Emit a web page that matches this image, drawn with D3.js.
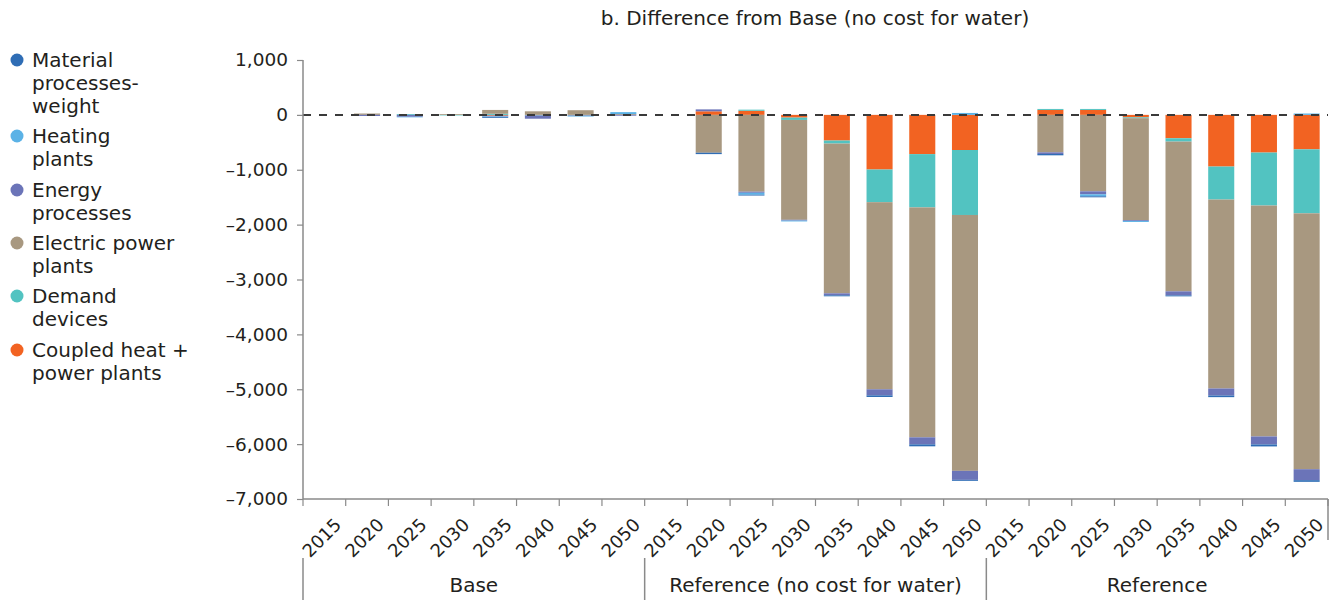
<!DOCTYPE html>
<html><head><meta charset="utf-8">
<script src="https://cdn.jsdelivr.net/npm/d3@7"></script>
<style>
body{margin:0;background:#fff;}
text{font-family:"DejaVu Sans",Verdana,sans-serif;fill:#231f20;}
</style></head>
<body><svg id="c" width="1330" height="600"></svg>
<script>
const groups = ["Base", "Reference (no cost for water)", "Reference"];
const years = ["2015","2020","2025","2030","2035","2040","2045","2050"];
const yTicks = [1000, 0, -1000, -2000, -3000, -4000, -5000, -6000, -7000];

// series values, 24 entries each: Base (8), Reference no cost (8), Reference (8)
const coupled  = [0,0,0,0,-15,0,0,0,   0,65,75,-50,-468,-996,-715,-640,   0,90,90,-45,-426,-942,-687,-628];
const demand   = [0,0,15,-10,20,-10,-10,0,   0,0,20,-42,-55,-595,-971,-1184,   0,18,18,-15,-61,-601,-965,-1166];
const electric = [0,25,0,15,70,65,85,15,   0,-690,-1400,-1820,-2729,-3410,-4190,-4663,   0,-683,-1393,-1858,-2729,-3443,-4208,-4663];
const energy   = [0,-20,-35,0,-15,-60,-10,-15,   0,35,-20,-15,-36,-110,-128,-164,   0,-30,-55,-15,-73,-128,-146,-200];
const heating  = [0,0,-10,0,-10,0,-10,35,   0,0,-35,-15,0,0,0,35,   0,0,-36,-18,0,0,0,25];
const material = [0,0,0,0,-15,0,0,0,   0,-25,-15,0,-18,-30,-36,-18,   0,-24,-18,0,-18,-30,-36,-30];

const seriesNames = ["Material processes-weight","Heating plants","Energy processes","Electric power plants","Demand devices","Coupled heat + power plants"];
const legendLines = [["Material","processes-","weight"],["Heating","plants"],["Energy","processes"],["Electric power","plants"],["Demand","devices"],["Coupled heat +","power plants"]];
const colors = ["#2f6db5","#5bb2e6","#6b74b8","#a89880","#52c3c1","#f26322"];
const seriesVals = [material, heating, energy, electric, demand, coupled];

const FONT = '"DejaVu Sans",Verdana,sans-serif';
const svg = d3.select("#c");
const X0 = 303, X1 = 1328, YT = 60, YB = 499;

const rows = [];
groups.forEach((g, gi) => years.forEach((yr, yi) => {
  const i = gi * years.length + yi;
  const r = {key: g + "|" + yr, group: g, year: yr};
  seriesNames.forEach((s, si) => r[s] = seriesVals[si][i]);
  rows.push(r);
}));

const x = d3.scaleBand().domain(rows.map(r => r.key)).range([X0, X1]).paddingInner(0.39).paddingOuter(0.195);
const y = d3.scaleLinear().domain([-7000, 1000]).range([YB, YT]);

// stacking order from zero outward: coupled, demand, electric, energy, heating, material
const stackKeys = seriesNames.slice().reverse();
const stack = d3.stack().keys(stackKeys).offset(d3.stackOffsetDiverging)(rows);

svg.append("g").selectAll("g").data(stack).join("g")
  .attr("fill", d => colors[seriesNames.indexOf(d.key)])
  .selectAll("rect").data(d => d).join("rect")
  .attr("x", d => x(d.data.key))
  .attr("width", x.bandwidth())
  .attr("y", d => y(Math.max(d[0], d[1])))
  .attr("height", d => Math.abs(y(d[0]) - y(d[1])));

// zero dashed line
svg.append("line").attr("x1", X0).attr("x2", X1).attr("y1", y(0)).attr("y2", y(0))
  .attr("stroke", "#3a3a3a").attr("stroke-width", 2).attr("stroke-dasharray", "8,8");

// y axis
const fmt = v => (v < 0 ? "\u2013" : "") + d3.format(",")(Math.abs(v));
const yAxis = d3.axisLeft(y).tickValues(yTicks).tickFormat(fmt).tickSize(6).tickPadding(9);
const ga = svg.append("g").attr("transform", `translate(${X0},0)`).call(yAxis);
ga.select(".domain").attr("stroke", "#8a8a8a").attr("stroke-width", 1.5).attr("d", `M0,${YT}V${YB}`);
ga.selectAll(".tick line").attr("stroke", "#8a8a8a").attr("stroke-width", 1.2);
ga.selectAll(".tick text").attr("font-size", 18.5).attr("fill", "#231f20").style("font-family", FONT);

// x axis
const gx = svg.append("g");
gx.append("line").attr("x1", X0).attr("x2", X1).attr("y1", YB).attr("y2", YB)
  .attr("stroke", "#8a8a8a").attr("stroke-width", 1.5);
const step = x.step();
const bounds = d3.range(rows.length + 1).map(i => X0 + i * step);
gx.selectAll("line.tk").data(bounds).join("line").attr("class", "tk")
  .attr("x1", d => d).attr("x2", d => d).attr("y1", YB).attr("y2", YB + 7)
  .attr("stroke", "#8a8a8a").attr("stroke-width", 1.2);
gx.selectAll("text.yl").data(rows).join("text").attr("class", "yl")
  .attr("font-size", 18).attr("text-anchor", "end")
  .attr("transform", d => `translate(${x(d.key) + x.bandwidth() / 2 + 18},${YB + 27}) rotate(-45)`)
  .text(d => d.year);

// group separators and labels
const sepX = groups.map((g, gi) => X0 + gi * years.length * step);
svg.selectAll("line.sep").data(sepX).join("line").attr("class", "sep")
  .attr("x1", d => d).attr("x2", d => d).attr("y1", 558).attr("y2", 600)
  .attr("stroke", "#8a8a8a").attr("stroke-width", 1.5);
svg.append("line").attr("x1", X1).attr("x2", X1).attr("y1", YB).attr("y2", 540)
  .attr("stroke", "#8a8a8a").attr("stroke-width", 1.5);
svg.selectAll("text.grp").data(groups).join("text").attr("class", "grp")
  .attr("x", (g, gi) => sepX[gi] + years.length * step / 2).attr("y", 592)
  .attr("text-anchor", "middle").attr("font-size", 20).text(d => d);

// title
svg.append("text").attr("x", 815).attr("y", 25).attr("text-anchor", "middle")
  .attr("font-size", 20).text("b. Difference from Base (no cost for water)");

// legend
const legStarts = [60, 136, 190, 243, 296, 350];
const lg = svg.append("g");
legendLines.forEach((lines, i) => {
  lg.append("circle").attr("cx", 17).attr("cy", legStarts[i]).attr("r", 6.5).attr("fill", colors[i]);
  const t = lg.append("text").attr("x", 32).attr("y", legStarts[i] + 7).attr("font-size", 20);
  lines.forEach((ln, li) => t.append("tspan").attr("x", 32).attr("dy", li === 0 ? 0 : 23).text(ln));
});
</script></body></html>
